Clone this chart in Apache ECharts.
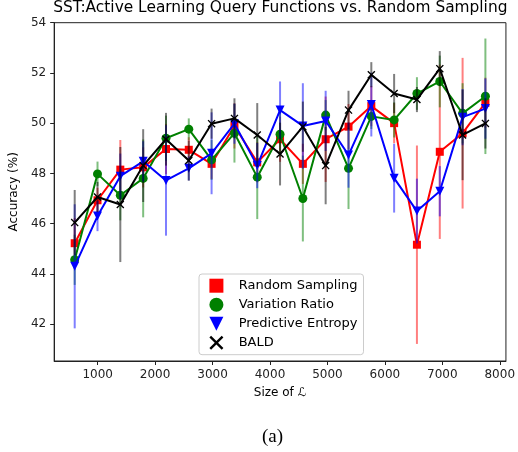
<!DOCTYPE html>
<html>
<head>
<meta charset="utf-8">
<script src="https://cdn.jsdelivr.net/npm/echarts@6/dist/echarts.min.js"></script>
<style>html,body{margin:0;padding:0;background:#fff;}#c{width:518px;height:452px;}</style>
</head>
<body>
<div id="c"></div>
<script>
const sizes = [600, 997, 1394, 1792, 2189, 2586, 2983, 3381, 3778, 4175, 4572, 4969, 5367, 5764, 6161, 6558, 6956, 7353, 7750];

const randomAcc = [45.22, 46.93, 48.15, 48.24, 48.97, 48.94, 48.38, 49.89, 48.44, 49.36, 48.38, 49.36, 49.86, 50.68, 50.00, 45.16, 48.86, 49.60, 50.81];
const randomErr = [1.00, 0.50, 1.18, 0.80, 1.00, 0.50, 0.60, 0.90, 0.80, 0.90, 0.80, 1.70, 0.90, 0.80, 0.80, 3.95, 3.47, 3.00, 1.00];

const variationAcc = [44.56, 47.98, 47.13, 47.80, 49.40, 49.76, 48.54, 49.60, 47.85, 49.56, 47.00, 50.32, 48.20, 50.27, 50.13, 51.18, 51.66, 50.39, 51.07];
const variationErr = [1.00, 0.49, 1.00, 1.55, 0.90, 0.43, 0.80, 1.17, 1.67, 0.90, 1.71, 0.60, 1.62, 0.50, 0.70, 0.65, 1.03, 1.20, 2.30];

const entropyAcc = [44.30, 46.30, 47.89, 48.48, 47.72, 48.20, 48.80, 49.98, 48.31, 50.52, 49.89, 50.09, 48.73, 50.74, 47.81, 46.50, 47.29, 50.24, 50.58];
const entropyErr = [2.47, 0.60, 0.90, 0.80, 2.20, 0.48, 1.63, 0.80, 0.90, 1.14, 1.70, 1.20, 1.30, 1.27, 1.37, 1.29, 1.00, 1.12, 1.20];

const baldAcc = [46.04, 47.06, 46.76, 48.31, 49.36, 48.51, 49.98, 50.19, 49.53, 48.77, 49.86, 48.31, 50.52, 51.93, 51.18, 50.94, 52.17, 49.53, 49.99];
const baldErr = [1.30, 0.60, 2.29, 1.45, 1.05, 0.80, 0.60, 0.80, 1.27, 1.25, 1.00, 1.54, 0.77, 0.50, 0.78, 0.50, 0.70, 1.80, 1.00];

const xTicks = [1000, 2000, 3000, 4000, 5000, 6000, 7000, 8000];
const yTicks = [42, 44, 46, 48, 50, 52, 54];

const seriesNames = ['Random Sampling', 'Variation Ratio', 'Predictive Entropy', 'BALD'];
const FONT = 'DejaVu Sans';

const X_PATH = 'path://M0,1.2L1.2,0L5,3.8L8.8,0L10,1.2L6.2,5L10,8.8L8.8,10L5,6.2L1.2,10L0,8.8L3.8,5Z';
const SQ_PATH = 'path://M0,0L10,0L10,10L0,10Z';
const CIRC_PATH = 'path://M5,0A5,5 0 1,1 4.999,0Z';
const TRI_PATH = 'path://M0,0L10,0L5,10Z';

function errSeries(vals, errs, color, z) {
  return {
    type: 'custom',
    silent: true,
    z: z,
    animation: false,
    encode: { x: 0, y: [1, 2] },
    data: sizes.map((s, i) => [s, vals[i] - errs[i], vals[i] + errs[i]]),
    renderItem: function (params, api) {
      const x = api.value(0);
      const p1 = api.coord([x, api.value(1)]);
      const p2 = api.coord([x, api.value(2)]);
      return {
        type: 'line',
        shape: { x1: p1[0], y1: p1[1], x2: p2[0], y2: p2[1] },
        style: { stroke: color, lineWidth: 2, opacity: 0.5 }
      };
    }
  };
}

function lineSeries(name, vals, color, symbol, size, z, rotate) {
  return {
    type: 'line',
    name: name,
    z: z,
    animation: false,
    data: sizes.map((s, i) => [s, vals[i]]),
    symbol: symbol,
    symbolSize: size,
    symbolRotate: rotate || 0,
    showAllSymbol: true,
    lineStyle: { color: color, width: 2 },
    itemStyle: { color: color, borderWidth: 0 },
    emphasis: { disabled: true }
  };
}

const chart = echarts.init(document.getElementById('c'), null, { renderer: 'canvas' });
chart.setOption({
  animation: false,
  backgroundColor: '#fff',
  textStyle: { fontFamily: FONT },
  grid: { left: 52.3, right: 9.7, top: 22.7, bottom: 91, show: true, borderColor: '#222', borderWidth: 1, backgroundColor: 'transparent' },
  xAxis: {
    type: 'value', min: 242.5, max: 8107.5,
    name: 'Size of ℒ', nameLocation: 'middle', nameGap: 26,
    nameTextStyle: { fontFamily: FONT, fontSize: 12, color: '#000' },
    axisLine: { show: true, lineStyle: { color: '#222', width: 1 } },
    axisTick: { show: true, length: 4, lineStyle: { color: '#222' }, customValues: xTicks },
    axisLabel: { fontFamily: FONT, fontSize: 12, color: '#222', margin: 8, customValues: xTicks, formatter: v => String(v) },
    splitLine: { show: false }
  },
  yAxis: {
    type: 'value', min: 40.53, max: 54.0,
    name: 'Accuracy (%)', nameLocation: 'middle', nameGap: 32, nameRotate: 90,
    nameTextStyle: { fontFamily: FONT, fontSize: 12, color: '#000' },
    axisLine: { show: true, lineStyle: { color: '#222', width: 1 } },
    axisTick: { show: true, length: 4, lineStyle: { color: '#222' }, customValues: yTicks },
    axisLabel: { fontFamily: FONT, fontSize: 12, color: '#222', margin: 8, customValues: yTicks, formatter: v => String(v) },
    splitLine: { show: false }
  },
  legend: {
    orient: 'vertical',
    left: 199, top: 274,
    z: 30,
    selectedMode: false,
    padding: [4.7, 6, 5, 10.4],
    itemWidth: 34.6, itemHeight: 14, itemGap: 5,
    borderColor: '#ccc', borderWidth: 1, borderRadius: 3,
    backgroundColor: 'rgba(255,255,255,0.85)',
    textStyle: { fontFamily: FONT, fontSize: 13, color: '#000' },
    data: [
      { name: seriesNames[0], icon: SQ_PATH },
      { name: seriesNames[1], icon: CIRC_PATH },
      { name: seriesNames[2], icon: TRI_PATH },
      { name: seriesNames[3], icon: X_PATH }
    ]
  },
  graphic: [
    { type: 'text', z: 50, style: { text: 'SST:Active Learning Query Functions vs. Random Sampling', x: 280.3, y: 0.5, textAlign: 'center', textVerticalAlign: 'top', font: '15.4px "DejaVu Sans"', fill: '#000' } },
    { type: 'text', z: 50, style: { text: '(a)', x: 272.5, y: 428, textAlign: 'center', textVerticalAlign: 'top', font: '19px "Liberation Serif"', fill: '#000' } }
  ],
  series: [
    errSeries(randomAcc, randomErr, 'red', 2),
    lineSeries(seriesNames[0], randomAcc, 'red', 'rect', 8, 3),
    errSeries(variationAcc, variationErr, 'green', 4),
    lineSeries(seriesNames[1], variationAcc, 'green', 'circle', 9, 5),
    errSeries(entropyAcc, entropyErr, 'blue', 6),
    lineSeries(seriesNames[2], entropyAcc, 'blue', 'triangle', 9, 7, 180),
    errSeries(baldAcc, baldErr, 'black', 8),
    lineSeries(seriesNames[3], baldAcc, 'black', X_PATH, 8, 9)
  ]
});
</script>
</body>
</html>
